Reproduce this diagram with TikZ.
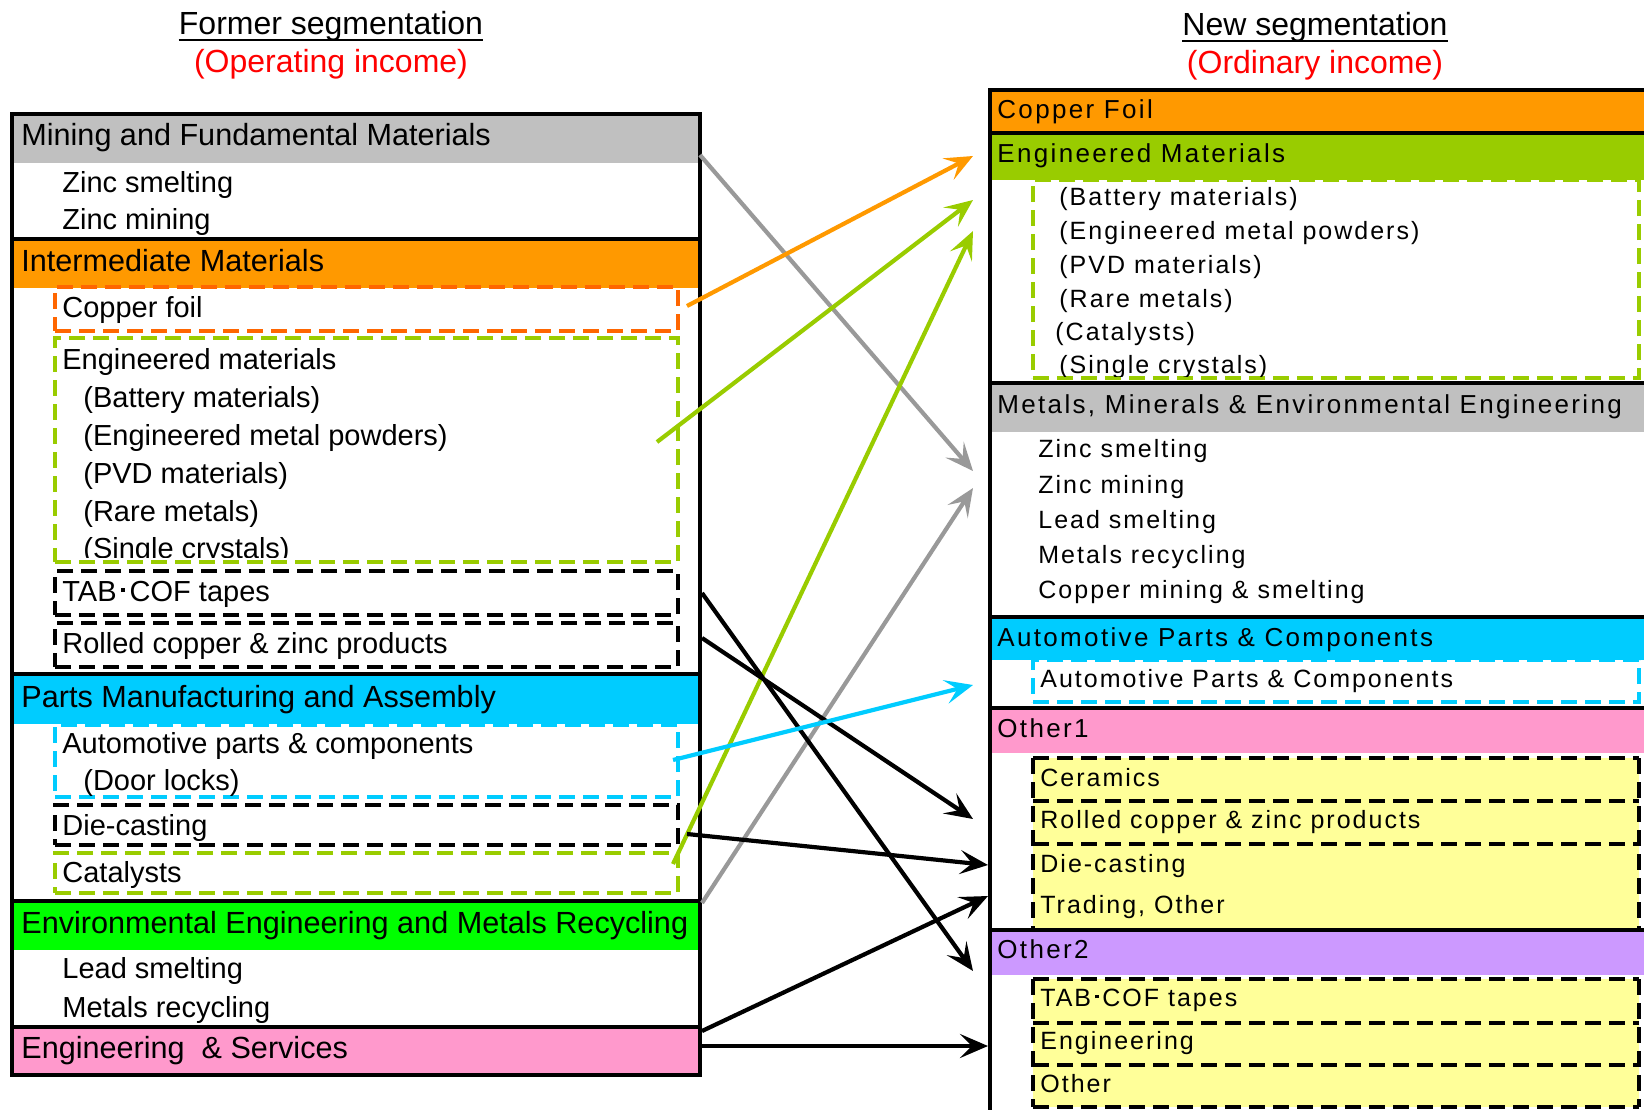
\documentclass[tikz,border=0pt]{standalone}
\usepackage{fontspec}
\setmainfont{Liberation Sans}
\newfontfamily\rfh[LetterSpace=9]{Liberation Sans}
\newfontfamily\rfi[LetterSpace=8]{Liberation Sans}
\usetikzlibrary{fit,arrows.meta}
\definecolor{cgray}{HTML}{C0C0C0}
\definecolor{corange}{HTML}{FF9900}
\definecolor{cdorange}{HTML}{FF6600}
\definecolor{clime}{HTML}{99CC00}
\definecolor{ccyan}{HTML}{00CCFF}
\definecolor{cgreen}{HTML}{00FF00}
\definecolor{cpink}{HTML}{FF99CC}
\definecolor{cpurple}{HTML}{CC99FF}
\definecolor{cyellow}{HTML}{FFFF99}
\definecolor{carrowgray}{HTML}{999999}
\newcommand{\tabdot}{\kern0.15em\rule[0.31em]{0.15em}{0.15em}\kern0.15em}
\begin{document}
\begin{tikzpicture}[x=0.5pt,y=-0.5pt,
  rect/.style={inner sep=0pt,outer sep=0pt},
  hdr/.style={rect,fill=#1},
  dbox/.style={rect,draw=#1,line width=2pt,dash pattern=on 8pt off 4pt},
  dline/.style={line width=2pt,dash pattern=on 8pt off 4pt},
  frame/.style={rect,draw=black,line width=2pt},
  divider/.style={line width=2pt},
  uline/.style={line width=1pt},
  lh/.style={anchor=base west,inner sep=0pt,font=\fontsize{15.3}{18}\selectfont},
  li/.style={anchor=base west,inner sep=0pt,font=\fontsize{14.5}{17}\selectfont},
  rh/.style={anchor=base west,inner sep=0pt,font=\rfh\fontsize{13}{16}\selectfont},
  ri/.style={anchor=base west,inner sep=0pt,font=\rfi\fontsize{12.5}{15}\selectfont},
  ttl/.style={anchor=base,inner sep=0pt,font=\fontsize{16}{19}\selectfont},
  arr/.style={line width=2.1pt,-{Stealth[length=14pt,width=12pt,inset=6pt]}},
]
\useasboundingbox (0,0) rectangle (1644,1109);
\clip (0,0) rectangle (1644,1109);

% titles
\node[ttl] (tl1) at (331,34) {Former segmentation};
\draw[uline] ([yshift=-3pt]tl1.base west) -- ([yshift=-3pt]tl1.base east);
\node[ttl,text=red] (tl2) at (331,72) {(Operating income)};
\node[ttl] (tr1) at (1315,35) {New segmentation};
\draw[uline] ([yshift=-3pt]tr1.base west) -- ([yshift=-3pt]tr1.base east);
\node[ttl,text=red] (tr2) at (1315,73) {(Ordinary income)};

% ---------- left column ----------
\node[hdr=cgray,fit={(12,114)(700,163)}] (lMF) {};
\node[hdr=corange,fit={(12,239)(700,288)}] (lIM) {};
\node[hdr=ccyan,fit={(12,674)(700,724)}] (lPM) {};
\node[hdr=cgreen,fit={(12,901)(700,950)}] (lEE) {};
\node[hdr=cpink,fit={(12,1027)(700,1075)}] (lES) {};

\node[dbox=cdorange,fit={(55,287)(678,331)}] (lCF) {};
\node[dbox=clime,fit={(55,338)(678,562)}] (lEMb) {};
\node[dbox=black,fit={(55,571)(678,615)}] (lTAB) {};
\node[dbox=black,fit={(55,623)(678,667)}] (lRC) {};
\node[dbox=ccyan,fit={(55,725)(678,797)}] (lAP) {};
\node[dbox=black,fit={(55,805)(678,845)}] (lDC) {};
\node[dbox=clime,fit={(55,853)(678,893)}] (lCat) {};

\node[lh] (x1) at (21,145) {Mining and Fundamental Materials};
\node[li] (x2) at (62,192) {Zinc smelting};
\node[li] (x3) at (62,229) {Zinc mining};
\node[lh] (x4) at (21,271) {Intermediate Materials};
\node[li] (x5) at (62,317) {Copper foil};
\node[li] (x6) at (62,369) {Engineered materials};
\node[li] (x7) at (83,407) {(Battery materials)};
\node[li] (x8) at (83,445) {(Engineered metal powders)};
\node[li] (x9) at (83,483) {(PVD materials)};
\node[li] (x10) at (83,521) {(Rare metals)};
\begin{scope}
\clip (0,0) rectangle (700,557);
\node[li] (x11) at (83,558) {(Single crystals)};
\end{scope}
\node[li] (x12) at (62,601) {TAB\tabdot COF tapes};
\node[li] (x13) at (62,653) {Rolled copper \& zinc products};
\node[lh] (x14) at (21,707) {Parts Manufacturing and Assembly};
\node[li] (x15) at (62,753) {Automotive parts \& components};
\node[li] (x16) at (83,790) {(Door locks)};
\node[li] (x17) at (62,835) {Die-casting};
\node[li] (x18) at (62,882) {Catalysts};
\node[lh] (x19) at (21,933) {Environmental Engineering and Metals Recycling};
\node[li] (x20) at (62,978) {Lead smelting};
\node[li] (x21) at (62,1017) {Metals recycling};
\node[lh] (x22) at (21,1058) {Engineering\ \ \& Services};

\node[frame,fit={(12,114)(700,1075)}] (lFrame) {};
\foreach \n in {lIM,lPM,lEE,lES} \draw[divider] (\n.north west) -- (\n.north east);

% ---------- right column ----------
\node[hdr=corange,fit={(990,90)(1660,133)}] (rCF) {};
\node[hdr=clime,fit={(990,133)(1660,180)}] (rEM) {};
\node[hdr=cgray,fit={(990,383)(1660,432)}] (rMM) {};
\node[hdr=ccyan,fit={(990,617)(1660,660)}] (rAP) {};
\node[hdr=cpink,fit={(990,708)(1660,753)}] (rO1) {};
\node[hdr=cpurple,fit={(990,930)(1660,975)}] (rO2) {};

\node[dbox=clime,fit={(1033,180)(1639,378)}] (rEMb) {};
\node[dbox=ccyan,fit={(1033,660)(1639,702)}] (rAPb) {};

\node[hdr=cyellow,fit={(1033,758)(1639,801)}] (rCer) {};
\node[hdr=cyellow,fit={(1033,801)(1639,844)}] (rRC) {};
\node[hdr=cyellow,fit={(1033,844)(1639,887)}] (rDC) {};
\node[hdr=cyellow,fit={(1033,887)(1639,928)}] (rTr) {};
\node[hdr=cyellow,fit={(1033,979)(1639,1023)}] (rTAB) {};
\node[hdr=cyellow,fit={(1033,1023)(1639,1065)}] (rEng) {};
\node[hdr=cyellow,fit={(1033,1065)(1639,1107)}] (rOth) {};
\foreach \n in {rCer,rRC,rDC,rTAB,rEng,rOth} \draw[dline] (\n.north west) -- (\n.north east);
\draw[dline] (rOth.south west) -- (rOth.south east);
\draw[dline] (rCer.north west) -- (rTr.south west);
\draw[dline] (rCer.north east) -- (rTr.south east);
\draw[dline] (rTAB.north west) -- (rOth.south west);
\draw[dline] (rTAB.north east) -- (rOth.south east);

\node[rh] (y1) at (997,118) {Copper Foil};
\node[rh] (y2) at (997,162) {Engineered Materials};
\node[ri] (y3) at (1059,205) {(Battery materials)};
\node[ri] (y4) at (1059,239) {(Engineered metal powders)};
\node[ri] (y5) at (1059,273) {(PVD materials)};
\node[ri] (y6) at (1059,307) {(Rare metals)};
\node[ri] (y7) at (1055,340) {(Catalysts)};
\begin{scope}
\clip (990,180) rectangle (1644,376);
\node[ri] (y8) at (1059,373) {(Single crystals)};
\end{scope}
\node[rh] (y9) at (997,413) {Metals, Minerals \& Environmental Engineering};
\node[ri] (y10) at (1038,457) {Zinc smelting};
\node[ri] (y11) at (1038,493) {Zinc mining};
\node[ri] (y12) at (1038,528) {Lead smelting};
\node[ri] (y13) at (1038,563) {Metals recycling};
\node[ri] (y14) at (1038,598) {Copper mining \& smelting};
\node[rh] (y15) at (997,646) {Automotive Parts \& Components};
\node[ri] (y16) at (1040,687) {Automotive Parts \& Components};
\node[rh] (y17) at (997,737) {Other1};
\node[ri] (y18) at (1040,786) {Ceramics};
\node[ri] (y19) at (1040,828) {Rolled copper \& zinc products};
\node[ri] (y20) at (1040,872) {Die-casting};
\node[ri] (y21) at (1040,913) {Trading, Other};
\node[rh] (y22) at (997,958) {Other2};
\node[ri] (y23) at (1040,1006) {TAB\tabdot COF tapes};
\node[ri] (y24) at (1040,1049) {Engineering};
\node[ri] (y25) at (1040,1092) {Other};

\node[frame,fit={(990,90)(1700,1150)}] (rFrame) {};
\foreach \n in {rEM,rMM,rAP,rO1,rO2} \draw[divider] (\n.north west) -- (\n.north east);

% ---------- arrows ----------
\draw[arr,carrowgray] ([shift={(0,-8)}]lMF.south east) -- ([shift={(-17,39)}]rMM.south west);
\draw[arr,corange] ([shift={(9,-3)}]lCF.east) -- ([shift={(-17,-0.5)}]rEM.west);
\draw[arr,clime] ([shift={(-21,-8)}]lEMb.east) -- ([shift={(-17,20)}]rEM.south west);
\draw[arr,clime] ([shift={(-5,-9)}]lCat.east) -- ([shift={(-17,51)}]rEM.south west);
\draw[arr,carrowgray] ([shift={(2,2)}]lEE.north east) -- ([shift={(-17,56)}]rMM.south west);
\draw[arr] ([shift={(24,0)}]lTAB.east) -- ([shift={(-17,18.5)}]rO2.west);
\draw[arr] ([shift={(24,-7)}]lRC.east) -- ([shift={(-60,-3.5)}]rRC.west);
\draw[arr,ccyan] ([shift={(-5,-1)}]lAP.east) -- ([shift={(-60,4)}]rAPb.west);
\draw[arr] ([shift={(9,9)}]lDC.east) -- ([shift={(-45,-0.5)}]rDC.west);
\draw[arr] ([shift={(2,4)}]lES.north east) -- ([shift={(-45,-11.5)}]rTr.west);
\draw[arr] ([shift={(2,-5)}]lES.east) -- ([shift={(-45,2)}]rEng.west);
\end{tikzpicture}
\end{document}
